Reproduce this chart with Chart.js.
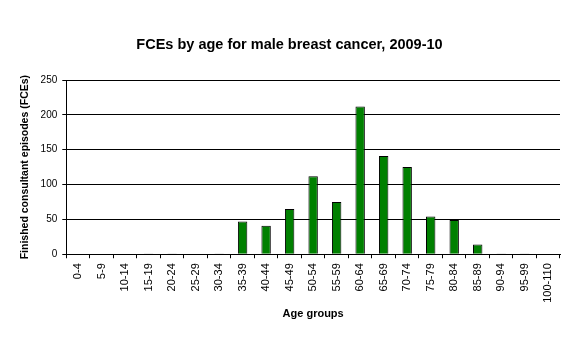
<!DOCTYPE html>
<html><head><meta charset="utf-8">
<script src="https://cdn.jsdelivr.net/npm/chart.js@4/dist/chart.umd.min.js"></script>
<style>html,body{margin:0;padding:0;background:#fff}#wrap{width:580px;height:360px}</style>
</head><body><div id="wrap"><canvas id="c" width="580" height="360"></canvas></div>
<script>
const categories = ["0-4","5-9","10-14","15-19","20-24","25-29","30-34","35-39","40-44","45-49","50-54","55-59","60-64","65-69","70-74","75-79","80-84","85-89","90-94","95-99","100-110"];
const fces = [0,0,0,1,1,0,1,47,41,65,112,75,212,141,125,54,49,14,1,1,0];
const yTicks = [0,50,100,150,200,250];
const FONT = "'Liberation Sans', Arial, sans-serif";

new Chart(document.getElementById('c'), {
  type: 'bar',
  data: { labels: categories, datasets: [{ data: fces, backgroundColor: '#008000', borderColor: '#000', borderWidth: 1, categoryPercentage: 0.4, barPercentage: 1.0 }] },
  options: {
    responsive: false, animation: false, devicePixelRatio: 1,
    layout: { padding: { left: 19, right: 20, top: 0, bottom: 35 } },
    plugins: {
      legend: { display: false }, tooltip: { enabled: false },
      title: { display: true, text: 'FCEs by age for male breast cancer, 2009-10', color: '#000', font: { family: FONT, size: 14.5, weight: 'bold' }, padding: { top: 36, bottom: 26.6 } }
    },
    scales: {
      x: {
        grid: { drawOnChartArea: false, drawTicks: true, tickLength: 4, color: '#000', offset: true },
        border: { color: '#000', width: 1 },
        ticks: { color: '#000', font: { family: FONT, size: 11 }, maxRotation: 90, minRotation: 90, autoSkip: false, padding: 5 },
        title: { display: true, text: 'Age groups', color: '#000', font: { family: FONT, size: 11, weight: 'bold' }, padding: { top: 0, bottom: 4 } }
      },
      y: {
        min: 0, max: 250,
        afterBuildTicks: (s) => { s.ticks = yTicks.map(v => ({ value: v })); },
        grid: { color: '#000', lineWidth: 1, tickLength: 4 },
        border: { color: '#000', width: 1 },
        ticks: { color: '#000', font: { family: FONT, size: 10 }, padding: 5 },
        title: { display: true, text: 'Finished consultant episodes (FCEs)', color: '#000', font: { family: FONT, size: 10.5, weight: 'bold' }, padding: { top: 0, bottom: 4 } }
      }
    }
  }
});
</script></body></html>
